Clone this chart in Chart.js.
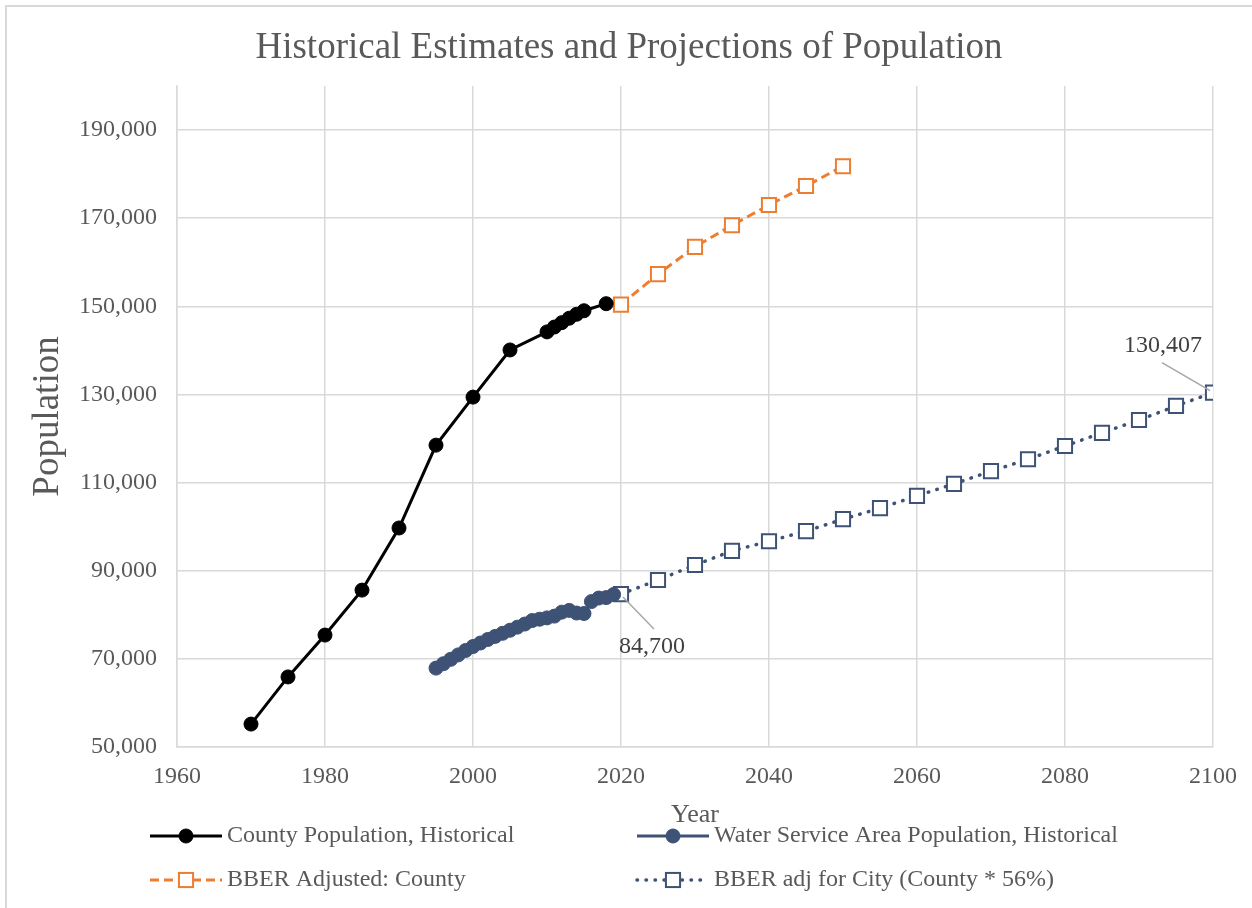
<!DOCTYPE html>
<html>
<head>
<meta charset="utf-8">
<script src="https://cdn.jsdelivr.net/npm/chart.js@4/dist/chart.umd.min.js"></script>
<style>
  html, body { margin: 0; padding: 0; background: #fff; }
  #wrap { width: 1252px; height: 908px; position: relative; }
</style>
</head>
<body>
<div id="wrap"><canvas id="canvas" width="1252" height="908"></canvas></div>
<script>
// county, historical
const countyYears = [1970, 1975, 1980, 1985, 1990, 1995, 2000, 2005, 2010, 2011, 2012, 2013, 2014, 2015, 2018];
const countyPop = [55200, 65900, 75400, 85600, 99700, 118500, 129400, 140100, 144200, 145300, 146300, 147300, 148200, 149000, 150600];

// water service area, historical (yearly)
const waterYears = [1995, 1996, 1997, 1998, 1999, 2000, 2001, 2002, 2003, 2004, 2005, 2006, 2007,
  2008, 2009, 2010, 2011, 2012, 2013, 2014, 2015, 2016, 2017, 2018, 2019];
const waterPop = [67900, 68900, 69900, 70900, 71900, 72800, 73600, 74400, 75100, 75800, 76500, 77200, 77900,
  78700, 79000, 79300, 79700, 80600, 81000, 80400, 80300, 83000, 83800, 83900, 84600];

// BBER projections
const bberCountyYears = [2020, 2025, 2030, 2035, 2040, 2045, 2050];
const bberCountyPop = [150400, 157300, 163500, 168400, 173000, 177300, 181800];

const bberCityYears = [2020, 2025, 2030, 2035, 2040, 2045, 2050, 2055, 2060, 2065, 2070, 2075, 2080, 2085, 2090, 2095, 2100];
const bberCityPop = [84700, 87900, 91300, 94500, 96700, 99000, 101700, 104200, 107000, 109700, 112600, 115300, 118300, 121300, 124200, 127400, 130407];

const yTicks = [50000, 70000, 90000, 110000, 130000, 150000, 170000, 190000];
const seriesNames = ['County Population, Historical', 'Water Service Area Population, Historical',
  'BBER Adjusted: County', 'BBER adj for City (County * 56%)'];

const SERIF = '"Liberation Serif", "Times New Roman", serif';
const GREY = '#595959';
const NAVY = '#3d5274';
const ORANGE = '#ed7d31';

const toPts = (xs, ys) => xs.map((x, i) => ({ x: x, y: ys[i] }));

// data labels + legend + frame, drawn after the chart
const extras = {
  id: 'extras',
  afterDraw(chart) {
    const c = chart.ctx;
    const xs = chart.scales.x, ys = chart.scales.y;
    c.save();

    // frame
    c.strokeStyle = '#d9d9d9';
    c.lineWidth = 2;
    c.beginPath();
    c.moveTo(6, 908); c.lineTo(6, 6); c.lineTo(1252, 6);
    c.stroke();

    // data labels
    c.font = '24px ' + SERIF;
    c.fillStyle = '#404040';
    c.textBaseline = 'middle';
    c.strokeStyle = '#a6a6a6';
    c.lineWidth = 1.5;
    const i0 = 0, iN = bberCityYears.length - 1;
    let px = xs.getPixelForValue(bberCityYears[i0]), py = ys.getPixelForValue(bberCityPop[i0]);
    c.beginPath(); c.moveTo(px + 2, py + 3); c.lineTo(px + 33, py + 35); c.stroke();
    c.textAlign = 'left';
    c.fillText(bberCityPop[i0].toLocaleString('en-US'), px - 2, py + 53);
    px = xs.getPixelForValue(bberCityYears[iN]); py = ys.getPixelForValue(bberCityPop[iN]);
    c.beginPath(); c.moveTo(px - 3, py - 2); c.lineTo(px - 51, py - 30); c.stroke();
    c.textAlign = 'center';
    c.fillText(bberCityPop[iN].toLocaleString('en-US'), px - 50, py - 47);

    // legend
    const ds = chart.data.datasets;
    const spots = [[150, 836], [637, 836], [150, 880], [637, 880]];
    ds.forEach((d, i) => {
      const [lx, ly] = spots[i];
      c.save();
      c.strokeStyle = d.borderColor;
      c.lineWidth = d.borderWidth;
      c.lineCap = d.borderCapStyle || 'butt';
      c.setLineDash(d.borderDash || []);
      c.beginPath(); c.moveTo(lx, ly); c.lineTo(lx + 72, ly); c.stroke();
      c.setLineDash([]);
      c.lineWidth = d.pointBorderWidth;
      c.strokeStyle = d.pointBorderColor;
      c.fillStyle = d.pointBackgroundColor;
      if (d.pointStyle === 'rect') {
        const s = Math.SQRT1_2 * d.pointRadius;
        c.fillRect(lx + 36 - s, ly - s, 2 * s, 2 * s);
        c.strokeRect(lx + 36 - s, ly - s, 2 * s, 2 * s);
      } else {
        c.beginPath(); c.arc(lx + 36, ly, d.pointRadius, 0, Math.PI * 2); c.fill(); c.stroke();
      }
      c.restore();
      c.font = '24px ' + SERIF;
      c.fillStyle = GREY;
      c.textAlign = 'left';
      c.textBaseline = 'middle';
      c.fillText(d.label, lx + 77, ly);
    });
    c.restore();
  }
};

new Chart(document.getElementById('canvas'), {
  type: 'line',
  data: {
    datasets: [
      {
        label: seriesNames[0], data: toPts(countyYears, countyPop),
        borderColor: '#000', borderWidth: 3,
        pointStyle: 'circle', pointRadius: 7, pointBorderWidth: 1,
        pointBackgroundColor: '#000', pointBorderColor: '#000'
      },
      {
        label: seriesNames[1], data: toPts(waterYears, waterPop),
        borderColor: NAVY, borderWidth: 3,
        pointStyle: 'circle', pointRadius: 7, pointBorderWidth: 1,
        pointBackgroundColor: NAVY, pointBorderColor: NAVY
      },
      {
        label: seriesNames[2], data: toPts(bberCountyYears, bberCountyPop),
        borderColor: ORANGE, borderWidth: 3, borderDash: [9, 5],
        pointStyle: 'rect', pointRadius: 10, pointBorderWidth: 2,
        pointBackgroundColor: '#fff', pointBorderColor: ORANGE
      },
      {
        label: seriesNames[3], data: toPts(bberCityYears, bberCityPop),
        borderColor: NAVY, borderWidth: 3.5, borderDash: [0.5, 8.5], borderCapStyle: 'round',
        pointStyle: 'rect', pointRadius: 10, pointBorderWidth: 2,
        pointBackgroundColor: '#fff', pointBorderColor: NAVY
      }
    ]
  },
  options: {
    responsive: false,
    animation: false,
    layout: { padding: { left: 43, right: 37, top: 0, bottom: 73 } },
    plugins: {
      legend: { display: false },
      tooltip: { enabled: false },
      title: {
        display: true,
        text: 'Historical Estimates and Projections of Population',
        color: GREY,
        font: { family: SERIF, size: 37, weight: 'normal' },
        padding: { top: 26, bottom: 15.6 }
      }
    },
    scales: {
      x: {
        type: 'linear', min: 1960, max: 2100,
        ticks: {
          stepSize: 20, color: GREY, padding: 15,
          font: { family: SERIF, size: 24 },
          callback: (v) => String(v)
        },
        grid: { color: '#d9d9d9', lineWidth: 1.5, drawTicks: false },
        border: { color: '#d9d9d9', width: 1.5 },
        title: { display: true, text: 'Year', color: GREY, font: { family: SERIF, size: 26 }, padding: 4 },
        afterFit: (s) => { s.height = 88; }
      },
      y: {
        min: 50000, max: 200000,
        afterBuildTicks: (s) => { s.ticks = yTicks.map(v => ({ value: v })); },
        ticks: {
          color: GREY, padding: 20,
          font: { family: SERIF, size: 24 },
          callback: (v) => v.toLocaleString('en-US')
        },
        grid: { color: '#d9d9d9', lineWidth: 1.5, drawTicks: false },
        border: { color: '#d9d9d9', width: 1.5 },
        title: { display: true, text: 'Population', color: GREY, font: { family: SERIF, size: 37 }, padding: { top: -17, bottom: 4 } },
        afterFit: (s) => { s.width = 134; }
      }
    }
  },
  plugins: [extras]
});
</script>
</body>
</html>
